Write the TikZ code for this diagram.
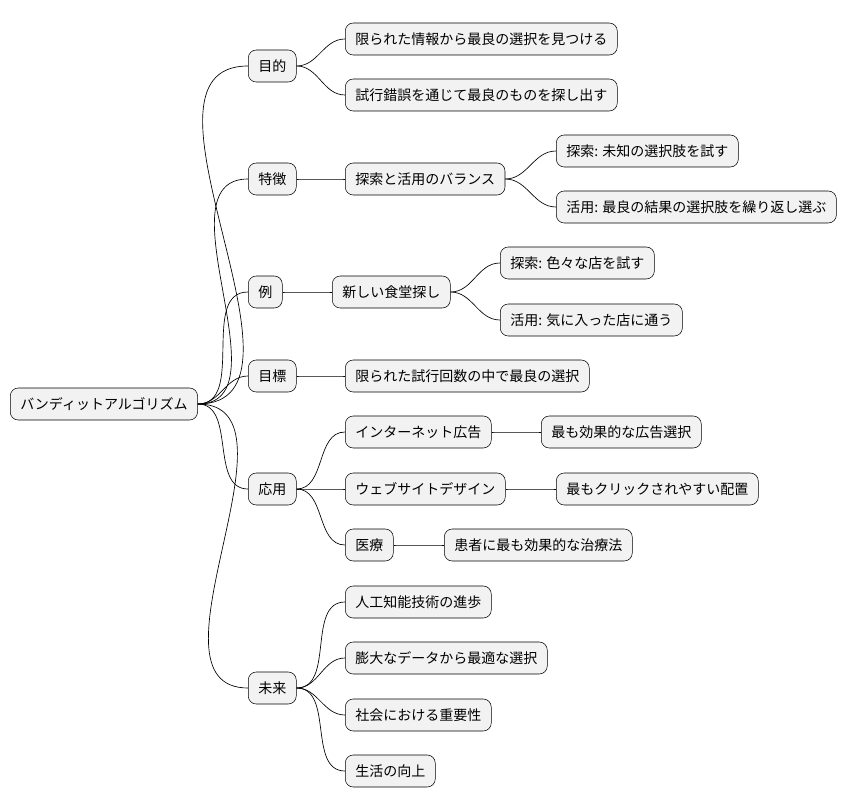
\documentclass[tikz,border=0pt]{standalone}
\usepackage{fontspec}
\newfontfamily\cjk{Noto Sans CJK JP}
\tikzset{
  topic/.style={draw=black, fill=gray!10, rounded corners=6pt, font=\cjk\fontsize{10.5}{12}\selectfont,
    minimum height=24pt, inner xsep=7.5pt, anchor=west},
  link/.style={draw=black, line width=0.5pt}
}
\begin{document}
\begin{tikzpicture}[x=0.75pt, y=-0.75pt]
    \useasboundingbox (0,0) rectangle (848,809);

    % root
    \node[topic] (root) at (10,404) {バンディットアルゴリズム};

    % first level
    \node[topic] (mokuteki) at (248,66) {目的};
    \node[topic] (tokucho) at (248,179) {特徴};
    \node[topic] (rei) at (248,292) {例};
    \node[topic] (mokuhyo) at (248,376) {目標};
    \node[topic] (oyo) at (248,489) {応用};
    \node[topic] (mirai) at (248,688) {未来};

    % second level
    \node[topic] (m1) at (345,39) {限られた情報から最良の選択を見つける};
    \node[topic] (m2) at (345,95) {試行錯誤を通じて最良のものを探し出す};
    \node[topic] (balance) at (345,179) {探索と活用のバランス};
    \node[topic] (b1) at (556,151) {探索: 未知の選択肢を試す};
    \node[topic] (b2) at (556,207) {活用: 最良の結果の選択肢を繰り返し選ぶ};
    \node[topic] (shokudo) at (332,292) {新しい食堂探し};
    \node[topic] (s1) at (500,263) {探索: 色々な店を試す};
    \node[topic] (s2) at (500,320) {活用: 気に入った店に通う};
    \node[topic] (g1) at (345,376) {限られた試行回数の中で最良の選択};
    \node[topic] (ad) at (345,432) {インターネット広告};
    \node[topic] (ad1) at (541,432) {最も効果的な広告選択};
    \node[topic] (web) at (345,489) {ウェブサイトデザイン};
    \node[topic] (web1) at (556,489) {最もクリックされやすい配置};
    \node[topic] (med) at (345,545) {医療};
    \node[topic] (med1) at (444,545) {患者に最も効果的な治療法};
    \node[topic] (f1) at (345,602) {人工知能技術の進歩};
    \node[topic] (f2) at (345,658) {膨大なデータから最適な選択};
    \node[topic] (f3) at (345,715) {社会における重要性};
    \node[topic] (f4) at (345,771) {生活の向上};

    % connectors
    \foreach \a/\b in {root/mokuteki, root/tokucho, root/rei, root/mokuhyo, root/oyo, root/mirai,
        mokuteki/m1, mokuteki/m2, tokucho/balance, balance/b1, balance/b2,
        rei/shokudo, shokudo/s1, shokudo/s2, mokuhyo/g1,
        oyo/ad, oyo/web, oyo/med, ad/ad1, web/web1, med/med1,
        mirai/f1, mirai/f2, mirai/f3, mirai/f4}
        \draw[link] (\a.east) to[out=0, in=180] (\b.west);

\end{tikzpicture}
\end{document}
